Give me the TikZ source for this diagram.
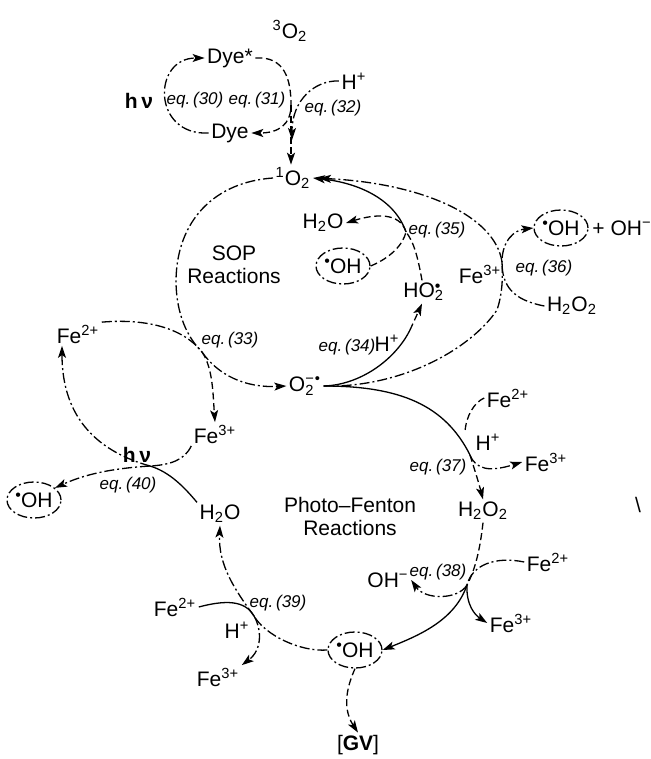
\documentclass[tikz,border=0pt]{standalone}
\usepackage{fontspec}
\setmainfont{Liberation Sans}
\usetikzlibrary{arrows.meta,shapes.geometric}
\newcommand{\chsub}[1]{\textsubscript{#1}}
\newcommand{\chsup}[1]{\textsuperscript{#1}}
\newcommand{\rad}{\raisebox{0.6ex}{\fontsize{8}{8}\selectfont •}}
\begin{document}
\begin{tikzpicture}[x=0.5pt,y=-0.5pt,line width=0.65pt,>={Stealth[length=6pt,width=4pt,inset=1.4pt]},
  font=\fontsize{10.5}{11.5}\selectfont,every node/.style={inner sep=1pt},
  eqlabel/.style={font=\fontsize{8.5}{9}\selectfont\itshape},
  photon/.style={font=\fontsize{10.5}{11.5}\selectfont\bfseries},
  radical/.style={draw,ellipse,chaindash,inner sep=0pt,minimum width=27pt,minimum height=18pt},
  chaindash/.style={dash pattern=on 5pt off 1.5pt on 1pt off 1.5pt},
  brokenline/.style={dash pattern=on 3.5pt off 1.8pt}]
  \useasboundingbox (0,0) rectangle (650,759);

  % Dye sensitisation
  \node (o3) at (290,31) {\chsup{3}O\chsub{2}};
  \node (dyes) at (230,58) {Dye*};
  \node (dye) at (230,133) {Dye};
  \node[photon] (hv1) at (139,101) {h\,ν};
  \node[eqlabel] (eq30) at (195,100) {eq.\,(30)};
  \node[eqlabel] (eq31) at (257,100) {eq.\,(31)};
  \node (hp1) at (354,81) {H\chsup{+}};
  \node[eqlabel] (eq32) at (333,108) {eq.\,(32)};
  \node (o1) at (293,178) {\chsup{1}O\chsub{2}};

  % SOP cycle
  \node[align=center] (sop) at (234,265) {SOP\\Reactions};
  \node (h2oa) at (323,223) {H\chsub{2}O};
  \node[radical] (oha) at (343,266) {\rad OH};
  \node[eqlabel] (eq35) at (437,230) {eq.\,(35)};
  \node (ho2) at (422,292) {HO\rlap{\chsub{2}}\rad};
  \node (fe3a) at (480,274) {Fe\chsup{3+}};
  \node[eqlabel] (eq36) at (544,268) {eq.\,(36)};
  \node[radical] (ohb) at (561,228) {\rad OH};
  \node (ohm) at (622,228) {+ OH\chsup{−}};
  \node (h2o2a) at (572,306) {H\chsub{2}O\chsub{2}};
  \node (fe2a) at (78,334) {Fe\chsup{2+}};
  \node[eqlabel] (eq33) at (230,340) {eq.\,(33)};
  \node[eqlabel] (eq34) at (347,347) {eq.\,(34)};
  \node (hp2) at (387,343) {H\chsup{+}};
  \node (o2m) at (305,386) {O\rlap{\chsub{2}}\chsup{−\kern0.5pt•}};
  \node (fe3b) at (215,434) {Fe\chsup{3+}};

  % Photo-Fenton cycle
  \node (fe2b) at (508,398) {Fe\chsup{2+}};
  \node (hp3) at (488,442) {H\chsup{+}};
  \node (fe3c) at (546,462) {Fe\chsup{3+}};
  \node[eqlabel] (eq37) at (438,467) {eq.\,(37)};
  \node (h2o2b) at (483,511) {H\chsub{2}O\chsub{2}};
  \node[photon] (hv2) at (137,455) {h\,ν};
  \node[eqlabel] (eq40) at (128,485) {eq.\,(40)};
  \node[radical] (ohc) at (34,500) {\rad OH};
  \node (h2ob) at (220,514) {H\chsub{2}O};
  \node[align=center] (pf) at (350,516) {Photo--Fenton\\Reactions};
  \node (stray) at (638,505) {\textbackslash};
  \node[eqlabel] (eq38) at (438,572) {eq.\,(38)};
  \node (ohm2) at (388,580) {OH\chsup{−}};
  \node (fe2c) at (548,562) {Fe\chsup{2+}};
  \node (fe3d) at (511,623) {Fe\chsup{3+}};
  \node[eqlabel] (eq39) at (278,603) {eq.\,(39)};
  \node (fe2d) at (175,607) {Fe\chsup{2+}};
  \node (hp4) at (237,630) {H\chsup{+}};
  \node (fe3e) at (218,677) {Fe\chsup{3+}};
  \node[radical] (ohd) at (355,650) {\rad OH};
  \node (gv) at (358,745) {[\textbf{GV}]};

  % reaction points
  \coordinate (r31) at (291,105);
  \coordinate (j32) at (292,140);
  \coordinate (r33) at (202,352);
  \coordinate (r34) at (410,330);
  \coordinate (r35) at (406,232);
  \coordinate (r36) at (502,262);
  \coordinate (r37) at (470,455);
  \coordinate (j37) at (465,432);
  \coordinate (r38) at (467,585);
  \coordinate (r39) at (254,616);
  \coordinate (r40) at (150,466);

  % eq. (30)-(32)
  \draw[->,chaindash] (dye.west) .. controls (152,136) and (152,58) .. (dyes.west);
  \draw[->,brokenline] (dyes.east) .. controls (285,56) and (291,80) .. (r31) .. controls (291,125) and (278,133) .. (dye.east);
  \draw[->,brokenline] (r31) -- (r31 |- o1.north);
  \draw[->,chaindash] (hp1.west) .. controls (315,80) and (292,100) .. (j32);

  % eq. (33)-(36)
  \draw[chaindash] (o1.west) .. controls (215,182) and (177,220) .. (176,280) .. controls (176,315) and (188,338) .. (r33);
  \draw[->,chaindash] (r33) .. controls (218,375) and (245,388) .. (o2m.west);
  \draw[chaindash] (fe2a.north east) .. controls (150,318) and (185,330) .. (r33);
  \draw[->,brokenline] (r33) .. controls (213,368) and (213,395) .. (fe3b.north);
  \draw (o2m.east) .. controls (360,385) and (395,360) .. (r34);
  \draw[->,brokenline] (r34) -- (ho2.south);
  \draw[brokenline] (ho2.north) .. controls (418,258) and (414,242) .. (r35);
  \draw[->] (r35) .. controls (395,200) and (360,183) .. (o1.east);
  \draw[brokenline] (oha.east) .. controls (390,258) and (403,245) .. (r35);
  \draw[->,brokenline] (r35) .. controls (400,212) and (375,214) .. (h2oa.east);
  \draw[chaindash] (o2m.east) .. controls (400,388) and (470,350) .. (497,310) .. controls (502,295) and (503,280) .. (r36);
  \draw[->,chaindash,shorten >=3pt] (r36) .. controls (495,215) and (420,183) .. (o1.east);
  \draw[->,chaindash] (h2o2a.west) .. controls (512,300) and (502,285) .. (r36) .. controls (502,240) and (515,230) .. (ohb.west);

  % eq. (37)-(40)
  \draw (o2m.east) .. controls (400,386) and (445,405) .. (r37);
  \draw[->,brokenline] (r37) .. controls (474,468) and (478,480) .. (h2o2b.north);
  \draw[brokenline] (fe2b.west) .. controls (475,402) and (466,415) .. (j37);
  \draw[->,chaindash] (r37) .. controls (476,470) and (490,472) .. (fe3c.west);
  \draw[brokenline] (h2o2b.south) .. controls (480,550) and (475,570) .. (r38);
  \draw[->] (r38) .. controls (455,620) and (420,635) .. (ohd.east);
  \draw[chaindash] (fe2c.west) .. controls (495,556) and (472,565) .. (r38);
  \draw[->] (r38) .. controls (466,605) and (475,615) .. (fe3d.west);
  \draw[->,chaindash] (r38) .. controls (458,600) and (425,600) .. (ohm2.east);
  \draw[chaindash] (ohd.west) .. controls (300,652) and (265,635) .. (r39);
  \draw[->,chaindash] (r39) .. controls (235,590) and (218,565) .. (h2ob.south);
  \draw (fe2d.east) .. controls (225,600) and (245,600) .. (r39);
  \draw[->,chaindash] (r39) .. controls (262,630) and (262,650) .. (fe3e.north east);
  \draw[->,brokenline] (ohd.south) .. controls (350,680) and (340,705) .. (gv.north);
  \draw (h2ob.north west) .. controls (185,488) and (170,472) .. (r40);
  \draw[->,chaindash] (r40) .. controls (100,452) and (62,420) .. ([xshift=-8pt]fe2a.south);
  \draw[chaindash] (fe3b.south west) .. controls (185,460) and (170,465) .. (r40);
  \draw[->,chaindash] (r40) .. controls (120,468) and (90,472) .. (ohc.30);
\end{tikzpicture}
\end{document}
